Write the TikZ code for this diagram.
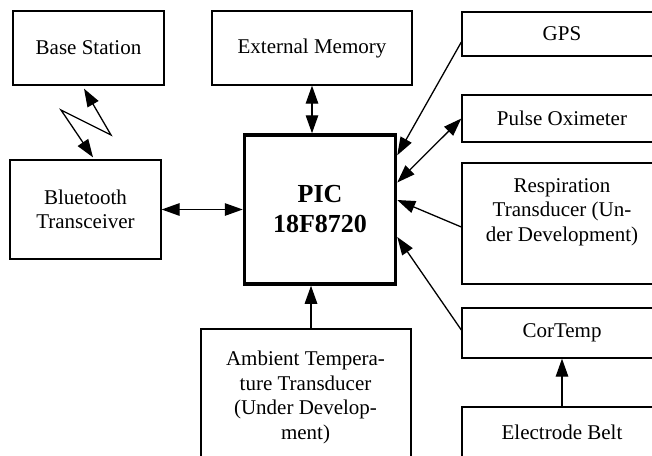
\documentclass[tikz,border=0pt]{standalone}
\usepackage{fontspec}
\setmainfont{Liberation Serif}
\usetikzlibrary{arrows.meta,calc}

\begin{document}
\begin{tikzpicture}[x=1pt,y=-1pt,
        >={Triangle[length=18pt,width=12.5pt]},
        box/.style={draw,line width=1.3pt,rectangle,inner sep=0pt,align=center,font=\fontsize{21}{24.5}\selectfont},
        txt/.style={inner sep=0pt,align=center,font=\fontsize{21}{24.5}\selectfont},
        link/.style={line width=1.3pt}]
        \clip (0,0) rectangle (652,455);
        \node[box,minimum width=151,minimum height=74] (base) at (88.5,48) {Base Station};
        \node[box,minimum width=200,minimum height=74] (extmem) at (312,48) {External Memory};
        \node[box,minimum width=200,minimum height=44] (gps) at (562,34) {GPS};
        \node[box,minimum width=200,minimum height=47] (pulse) at (562,118.5) {Pulse Oximeter};
        \node[box,minimum width=200,minimum height=121] (resp) at (562,223.5) {};
        \node[txt] (resptext) at (562,212) {Respiration\\Transducer (Un-\\der Development)};
        \node[box,minimum width=200,minimum height=50] (cortemp) at (562,333) {CorTemp};
        \node[box,minimum width=200,minimum height=50] (belt) at (562,432) {Electrode Belt};
        \node[box,line width=3.5pt,minimum width=151,minimum height=149,font=\fontsize{26}{30}\selectfont\bfseries] (pic) at (320,209.5) {PIC\\18F8720};
        \node[box,minimum width=151,minimum height=99] (bt) at (85.5,209.5) {Bluetooth\\Transceiver};
        \node[box,minimum width=210,minimum height=150] (amb) at (306,404) {};
        \node[txt] (ambtext) at (305.5,397.5) {Ambient Tempera-\\ture Transducer\\(Under Develop-\\ment)};
        % wireless link
        \coordinate (zigA) at (111,135);
        \coordinate (zigB) at (61,110);
        \draw[link,<->] ($(base.south)+(-4.5,3)$) -- (zigA) -- (zigB) -- ($(bt.north)+(7.5,-2)$);
        \draw[link,<->] (bt) -- (pic);
        \draw[link,<->] (extmem.south) -- (extmem.south |- pic.north);
        \draw[link,->] ($(gps.west)+(0,8)$) -- ($(pic.north east)+(0,22)$);
        \draw[link,<->] (pulse.west) -- ($(pic.east)+(0,-27)$);
        \draw[link,->] ($(resp.west)+(0,3.5)$) -- ($(pic.east)+(0,-9.5)$);
        \draw[link,->] ($(cortemp.west)+(0,-3)$) -- ($(pic.east)+(0,27.5)$);
        \draw[link,->] (belt.north) -- (cortemp.south);
        \coordinate (ambtop) at ($(amb.north)+(5,0)$);
        \draw[link,->] (ambtop) -- (ambtop |- pic.south);
      \end{tikzpicture}
\end{document}
